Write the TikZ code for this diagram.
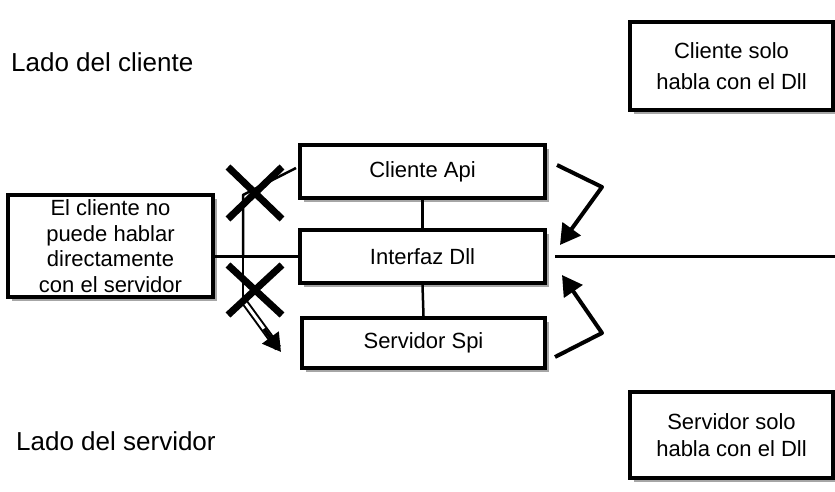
\documentclass[tikz,border=0pt]{standalone}
\usepackage{fontspec}
\setmainfont{Liberation Sans}
\usetikzlibrary{arrows.meta,shadows,calc}
\begin{document}
\begin{tikzpicture}[x=1pt,y=-1pt,
  box/.style={draw=black,line width=4pt,fill=white,inner sep=0pt,align=center,
    font=\fontsize{22}{26}\selectfont,
    drop shadow={shadow xshift=4pt,shadow yshift=-4pt,fill=black!35,opacity=1}},
  conn/.style={line width=2.5pt},
  bigarrow/.style={line width=4pt,-{Triangle[length=20pt,width=22pt]}},
  cross/.style={line width=7pt},
  lado/.style={font=\fontsize{26}{30}\selectfont,anchor=west,inner sep=0pt}]
\useasboundingbox (0,0) rectangle (835,492);
% side labels
\node[lado] (lc) at (11,62) {Lado del cliente};
\node[lado] (ls) at (16,441) {Lado del servidor};
% central boxes
\node[box,minimum width=245pt,minimum height=53pt] (api) at (422.5,171.5) {Cliente Api};
\node[box,minimum width=245pt,minimum height=53pt] (dll) at (422.5,256.5) {Interfaz Dll};
\node[box,minimum width=243pt,minimum height=50pt] (spi) at (423.5,343) {Servidor Spi};
% left box
\node[box,minimum width=205pt,minimum height=102pt,font=\fontsize{22}{25.5}\selectfont] (left) at (110.5,246)
  {El cliente no\\puede hablar\\directamente\\con el servidor};
% right boxes
\node[box,minimum width=203pt,minimum height=88pt,font=\fontsize{22}{31}\selectfont] (tr) at (731.5,66)
  {Cliente solo\\habla con el Dll};
\node[box,minimum width=203pt,minimum height=86pt,font=\fontsize{22}{27}\selectfont] (br) at (731.5,435)
  {Servidor solo\\habla con el Dll};
% vertical links
\draw[conn] (api.south) -- (dll.north);
\draw[conn] (dll.south) -- (spi.north);
% horizontal links
\coordinate (rEnd) at (835,256.5);
\draw[conn] (dll.west -| left.east) -- (dll.west);
\draw[conn] ([xshift=8pt]dll.east) -- (rEnd);
% forbidden paths on the left
\coordinate (jn) at (243,256.5);
\coordinate (jt) at (243,195);
\coordinate (jb) at (243,300);
\coordinate (ab) at ([xshift=-22pt,yshift=-5pt]spi.west);
\draw[conn,line join=round] (jn) -- (jt) -- ([xshift=-2pt,yshift=3.5pt]api.west);
\draw[conn,line join=round] (jn) -- (jb);
\draw[line width=7pt] (jb) -- (ab);
\draw[line width=3pt,white] (jb) -- (ab);
\draw[line width=3.5pt,-{Triangle[length=18pt,width=20pt]}] ($(jb)!0.6!(ab)$) -- ([xshift=-19pt,yshift=-9pt]spi.west);
% crosses
\coordinate (x1) at (255,193);
\coordinate (x2) at (255,290);
\draw[cross] ([shift={(-27,-26)}]x1) -- ([shift={(27,26)}]x1);
\draw[cross] ([shift={(-27,26)}]x1) -- ([shift={(27,-26)}]x1);
\draw[cross] ([shift={(-27,-25)}]x2) -- ([shift={(27,25)}]x2);
\draw[cross] ([shift={(-27,25)}]x2) -- ([shift={(27,-25)}]x2);
% allowed paths on the right
\coordinate (mt) at (602,187);
\coordinate (mb) at (602,333);
\draw[bigarrow,line join=round] ([xshift=10pt,yshift=6.5pt]api.east) -- (mt) -- ([xshift=13pt,yshift=11.5pt]dll.east);
\draw[bigarrow,line join=round] ([xshift=8pt,yshift=-14pt]spi.east) -- (mb) -- ([xshift=15pt,yshift=-18.5pt]dll.east);
\end{tikzpicture}
\end{document}
